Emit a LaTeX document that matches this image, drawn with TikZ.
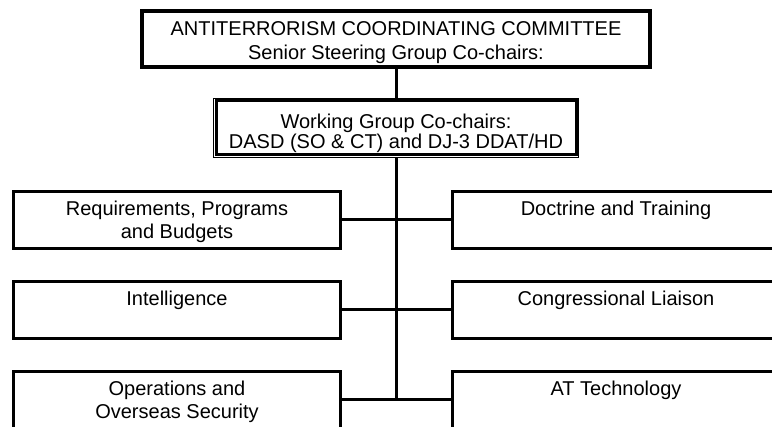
\documentclass[tikz,border=0pt]{standalone}
\usepackage{fontspec}
\setmainfont{Liberation Sans}
\usetikzlibrary{calc}
\begin{document}
\begin{tikzpicture}[x=1pt,y=-1pt,
  unitbox/.style={draw, line width=2.6pt, minimum width=327.4pt, minimum height=57.4pt, inner sep=0pt},
  boxtext/.style={align=center, anchor=base, inner sep=0pt},
  link/.style={line width=3pt}]
\useasboundingbox (0,0) rectangle (772,427);

% committee box: thick outer frame, thin inner frame
% (text nodes sit on the baseline of their last line)
\node[draw, line width=3pt, minimum width=509pt, minimum height=57pt, inner sep=0pt] (acc) at (396,39) {};
\node[boxtext, font=\fontsize{20}{24}\selectfont] (acct) at (396,60)
  {ANTITERRORISM COORDINATING COMMITTEE\\Senior Steering Group Co-chairs:};
\draw[line width=1pt] ([shift={(3.5,3.5)}]acc.north west) rectangle ([shift={(-3.5,-3.5)}]acc.south east);

% working group box: thin outer frame, thick inner frame
\node[draw, line width=1pt, minimum width=365pt, minimum height=59pt, inner sep=0pt] (wg) at (396,128) {};
\draw[line width=3pt] ([shift={(3,3)}]wg.north west) rectangle ([shift={(-3,-3)}]wg.south east);
\node[boxtext, font=\fontsize{20}{20}\selectfont] (wgt) at (396,149)
  {Working Group Co-chairs:\\DASD (SO \& CT) and DJ-3 DDAT/HD};

% subgroup boxes
\node[unitbox] (req)   at (177,220) {};
\node[unitbox] (intel) at (177,310) {};
\node[unitbox] (ops)   at (177,400) {};
\node[unitbox] (doc)   at (616,220) {};
\node[unitbox] (cong)  at (616,310) {};
\node[unitbox] (att)   at (616,400) {};

\begin{scope}[font=\fontsize{20}{23.3}\selectfont]
\node[boxtext] (reqt)   at (177,239) {Requirements, Programs\\and Budgets};
\node[boxtext] (intelt) at (177,306) {Intelligence};
\node[boxtext] (opst)   at (177,419) {Operations and\\Overseas Security};
\node[boxtext] (doct)   at (616,216) {Doctrine and Training};
\node[boxtext] (congt)  at (616,306) {Congressional Liaison};
\node[boxtext] (attt)   at (616,396) {AT Technology};
\end{scope}

% connectors
\coordinate (trunkend) at (wg.south |- ops.east);
\draw[link] (acc.south) -- (wg.north);
\draw[link] (wg.south) -- (trunkend);
\draw[link] (req.east) -- (doc.west);
\draw[link] (intel.east) -- (cong.west);
\draw[link] (ops.east) -- (att.west);
\end{tikzpicture}
\end{document}
